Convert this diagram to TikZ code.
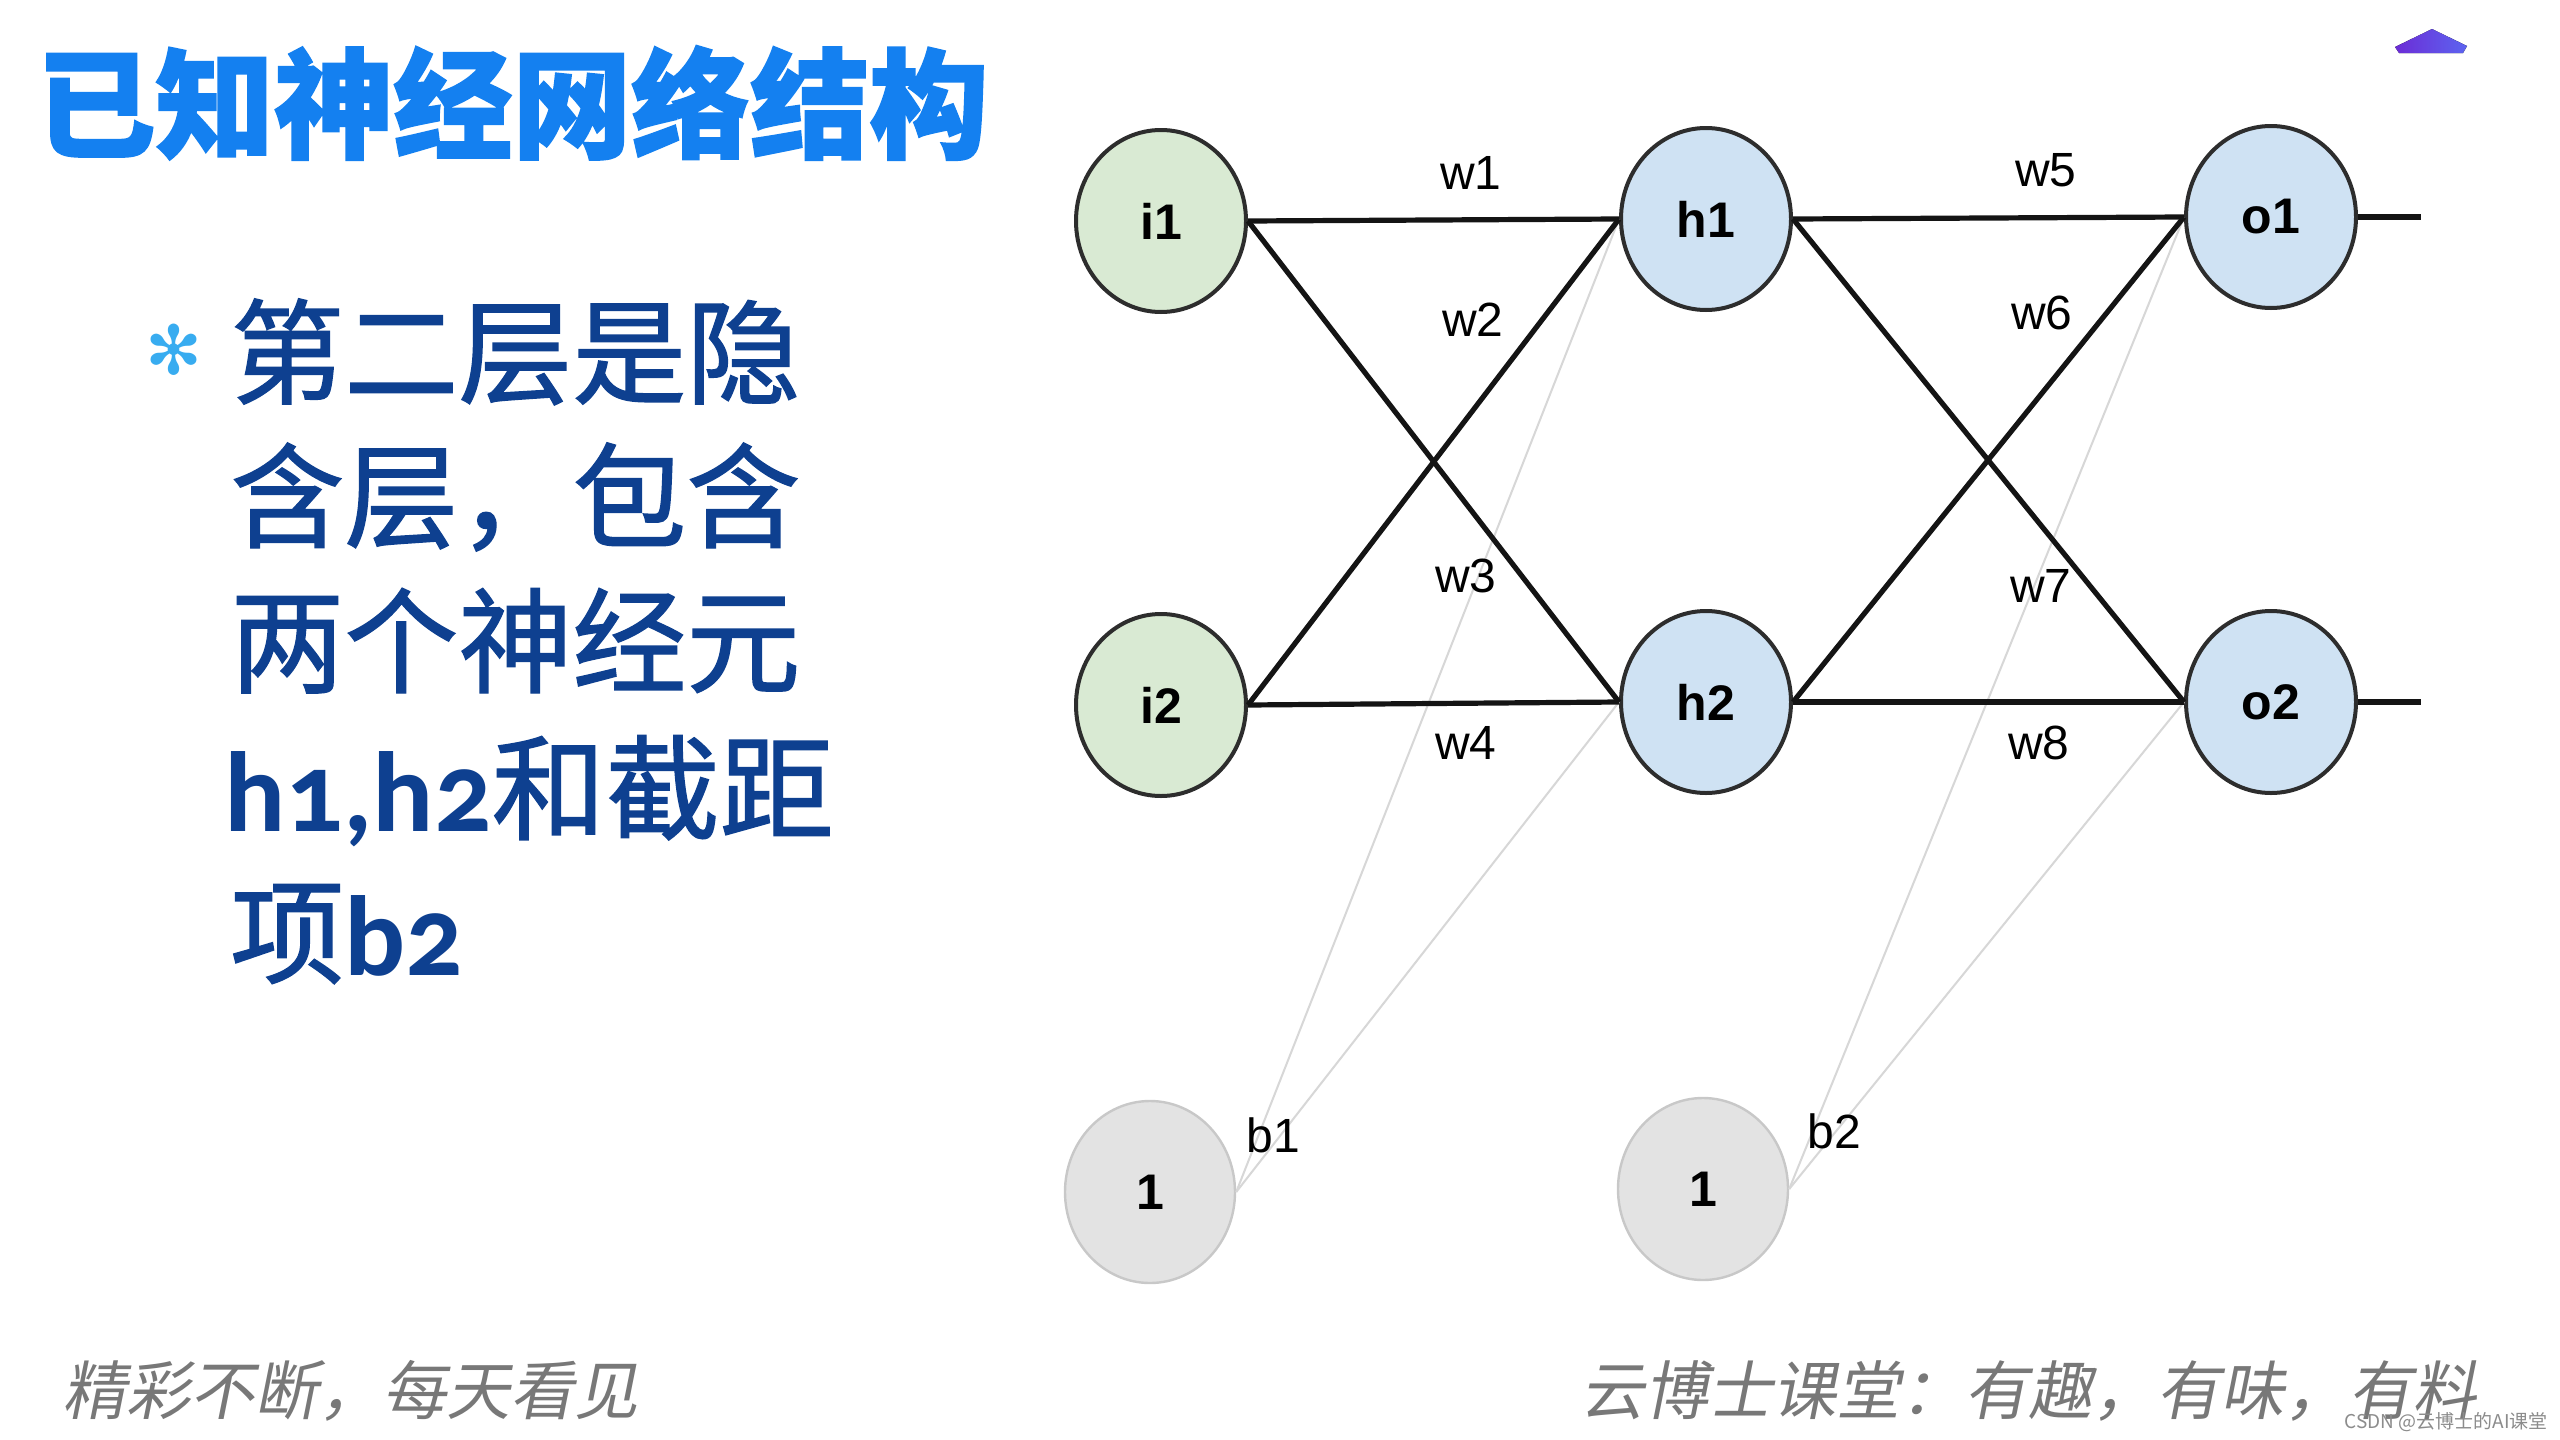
\documentclass[tikz,border=0pt]{standalone}
\usepackage{fontspec}
\setmainfont{Liberation Sans}
\newfontfamily\cjk{Noto Sans CJK SC}
\newfontfamily\cjkbody{Noto Sans CJK SC}[FakeBold=1.2]
\newfontfamily\cjktitle{Noto Sans CJK SC}[BoldFeatures={FakeBold=1.5}]
\newfontfamily\cjkit{Noto Sans CJK SC}[FakeSlant=0.2]
\newfontfamily\latb{Carlito}[Numbers=OldStyle]
\newfontfamily\symf{DejaVu Sans}
\usetikzlibrary{shapes.geometric}
\definecolor{titleblue}{RGB}{20,128,240}
\definecolor{bodyblue}{RGB}{14,64,144}
\definecolor{bulletblue}{RGB}{56,172,240}
\definecolor{ingreen}{RGB}{217,234,211}
\definecolor{hblue}{RGB}{207,226,243}
\definecolor{biasgray}{RGB}{227,227,227}
\definecolor{biasedge}{RGB}{200,200,200}
\definecolor{edgegray}{RGB}{45,45,45}
\definecolor{footgray}{RGB}{120,120,120}
\definecolor{lightline}{RGB}{215,215,215}
\definecolor{purpA}{RGB}{108,44,214}
\definecolor{purpB}{RGB}{92,100,240}
\tikzset{
  neuron/.style={ellipse, draw=edgegray, line width=2pt, minimum width=85pt, minimum height=91pt, inner sep=0pt, font=\bfseries\fontsize{25}{25}\selectfont},
  inneuron/.style={neuron, fill=ingreen},
  hidneuron/.style={neuron, fill=hblue},
  biasneuron/.style={neuron, draw=biasedge, line width=1.2pt, fill=biasgray},
  conn/.style={line width=2.6pt, draw=black!92},
  biasconn/.style={line width=1pt, draw=lightline},
  wlabel/.style={font=\fontsize{24}{24}\selectfont, inner sep=0pt},
  bodyline/.style={anchor=base west, inner sep=0pt, text=bodyblue, font=\fontsize{57}{60}\selectfont},
  footer/.style={anchor=west, inner sep=0pt, text=footgray, font=\cjkit\fontsize{32}{34}\selectfont}
}
\begin{document}
\begin{tikzpicture}[x=0.5pt, y=-0.5pt]
\useasboundingbox[fill=white] (0,0) rectangle (2560,1440);

% title
\node[anchor=west, inner sep=0pt, text=titleblue, font=\cjktitle\bfseries\fontsize{59.5}{60}\selectfont] (title) at (36,103) {已知神经网络结构};

% purple mark
\fill[left color=purpA, right color=purpB] (2395,47) -- (2432,29) -- (2467,46) -- (2463,53) -- (2399,53) -- cycle;

% bullet text
\node[inner sep=0pt, text=bulletblue, font=\symf\fontsize{34}{34}\selectfont] (bullet) at (174,350) {✻};
\node[bodyline] (l1) at (230,395) {\cjkbody 第二层是隐};
\node[bodyline] (l2) at (230,539) {\cjkbody 含层，包含};
\node[bodyline] (l3) at (230,684) {\cjkbody 两个神经元};
\node[bodyline] (l4) at (224,831) {{\latb\bfseries h1,h2}{\cjkbody 和截距}};
\node[bodyline] (l5) at (230,975) {{\cjkbody 项}{\latb\bfseries b2}};

% neurons
\node[inneuron] (i1) at (1161,221) {i1};
\node[inneuron] (i2) at (1161,705) {i2};
\node[hidneuron] (h1) at (1706,219) {h1};
\node[hidneuron] (h2) at (1706,702) {h2};
\node[hidneuron] (o1) at (2271,217) {o1};
\node[hidneuron] (o2) at (2271,702) {o2};
\node[biasneuron] (b1) at (1150,1192) {1};
\node[biasneuron] (b2) at (1703,1189) {1};
\coordinate (out1) at (2421,217);
\coordinate (out2) at (2421,702);

% bias connectors
\draw[biasconn] (b1.east) -- (h1.west);
\draw[biasconn] (b1.east) -- (h2.west);
\draw[biasconn] (b2.east) -- (o1.west);
\draw[biasconn] (b2.east) -- (o2.west);

% weight connectors
\draw[conn] (i1.east) -- (h1.west);
\draw[conn] (i1.east) -- (h2.west);
\draw[conn] (i2.east) -- (h1.west);
\draw[conn] (i2.east) -- (h2.west);
\draw[conn] (h1.east) -- (o1.west);
\draw[conn] (h1.east) -- (o2.west);
\draw[conn] (h2.east) -- (o1.west);
\draw[conn] (h2.east) -- (o2.west);
\draw[conn] (o1.east) -- (out1);
\draw[conn] (o2.east) -- (out2);

% labels
\node[wlabel] (lw1) at (1471,173) {w1};
\node[wlabel] (lw2) at (1473,320) {w2};
\node[wlabel] (lw3) at (1466,576) {w3};
\node[wlabel] (lw4) at (1466,743) {w4};
\node[wlabel] (lw5) at (2046,170) {w5};
\node[wlabel] (lw6) at (2042,313) {w6};
\node[wlabel] (lw7) at (2041,586) {w7};
\node[wlabel] (lw8) at (2039,743) {w8};
\node[wlabel] (lb1) at (1273,1135) {b1};
\node[wlabel] (lb2) at (1834,1131) {b2};

% footers
\node[footer] (f1) at (62,1391) {精彩不断，每天看见};
\node[footer] (f2) at (1580,1391) {云博士课堂：有趣，有味，有料};
\node[anchor=east, inner sep=0pt, text=black!45, font=\cjk\fontsize{9.5}{10}\selectfont] (wm) at (2548,1422) {CSDN @云博士的AI课堂};
\end{tikzpicture}
\end{document}
